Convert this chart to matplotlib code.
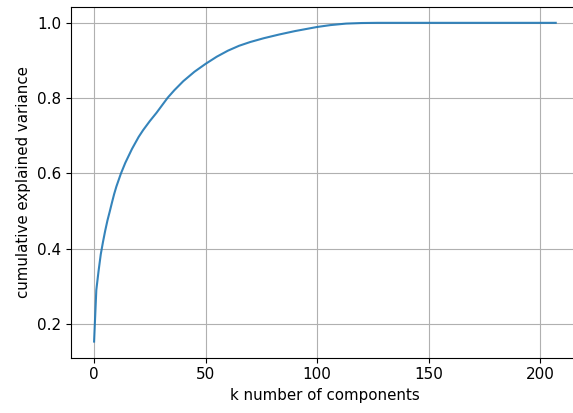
import matplotlib
matplotlib.use("Agg")
import matplotlib.pyplot as plt

# number of components (k) and cumulative explained variance
k_components = [0, 1, 2, 3, 4, 5, 6, 7, 8, 9, 10, 12, 14, 17, 20, 22, 25, 28, 30,
                33, 36, 40, 45, 50, 55, 60, 65, 70, 76, 83, 90, 100, 106, 113,
                120, 127, 140, 160, 180, 207]
cum_var = [0.153, 0.29, 0.34, 0.385, 0.418, 0.448, 0.475, 0.498, 0.522, 0.545,
           0.565, 0.599, 0.628, 0.665, 0.697, 0.715, 0.739, 0.761, 0.777,
           0.801, 0.821, 0.845, 0.870, 0.891, 0.910, 0.926, 0.939, 0.949,
           0.959, 0.969, 0.978, 0.989, 0.994, 0.998, 0.9995, 1.0, 1.0, 1.0,
           1.0, 1.0]

x_ticks = [0, 50, 100, 150, 200]
y_ticks = [0.2, 0.4, 0.6, 0.8, 1.0]

W, H = 573, 413
fig = plt.figure(figsize=(W / 100, H / 100), dpi=100)
left, right = 71 / W, 578.8 / W
bottom, top = (H - 357.5) / H, (H - 6.9) / H
ax = fig.add_axes([left, bottom, right - left, top - bottom])

ax.plot(k_components, cum_var, color="#1f77b4", linewidth=1.5, alpha=0.9)
ax.grid(True)
ax.set_xticks(x_ticks)
ax.set_yticks(y_ticks)
ax.tick_params(labelsize=11)
ax.set_xlabel("k number of components", fontsize=10.8)
ax.set_ylabel("cumulative explained variance", fontsize=10.8)

fig.savefig("out.png", dpi=100)
